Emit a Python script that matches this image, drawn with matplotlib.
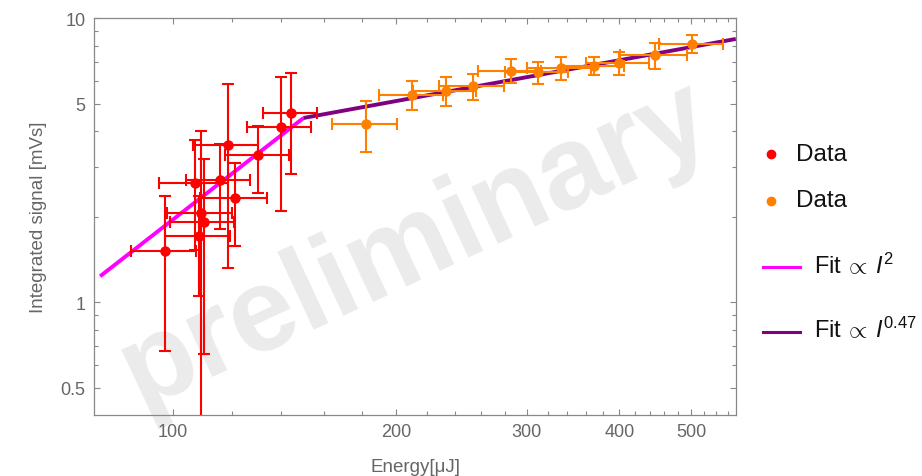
import matplotlib
matplotlib.use("Agg")
import matplotlib.pyplot as plt
from matplotlib.ticker import FixedLocator, NullFormatter, FixedFormatter

plt.rcParams['font.family'] = ['Liberation Sans', 'DejaVu Sans']
plt.rcParams['mathtext.fontset'] = 'custom'
plt.rcParams['mathtext.rm'] = 'Liberation Sans'
plt.rcParams['mathtext.it'] = 'Liberation Sans:italic'

# ---- data ----
red_x = [97.7, 107.2, 109.1, 110.0, 108.6, 115.6, 118.5, 121.3, 130.4, 139.8, 144.2]
red_y = [1.515, 2.63, 2.06, 1.92, 1.71, 2.70, 3.58, 2.33, 3.30, 4.15, 4.63]
red_xerr = [9.8, 11.5, 11.0, 11.0, 11.0, 11.3, 11.9, 12.5, 12.9, 13.8, 12.0]
red_yerr = [0.843, 1.10, 1.94, 1.26, 0.66, 0.89, 2.26, 0.75, 0.88, 2.06, 1.80]

orange_x = [182.0, 210.4, 233.5, 254.1, 285.6, 310.9, 333.2, 369.6, 399.3, 447.0, 501.5]
orange_y = [4.24, 5.36, 5.55, 5.75, 6.53, 6.44, 6.65, 6.80, 6.95, 7.41, 8.10]
orange_xerr = [18.3, 20.6, 23.0, 25.6, 27.6, 30.5, 33.0, 36.0, 39.0, 46.0, 49.7]
orange_yerr = [0.85, 0.63, 0.65, 0.62, 0.63, 0.57, 0.62, 0.48, 0.63, 0.79, 0.58]

fit2_x = [79.8, 150.0]
fit2_y = [1.235, 4.45]
fit047_x = [150.0, 574.0]
fit047_y = [4.45, 8.44]

x_major = [100, 200, 300, 400, 500]
x_major_labels = ['100', '200', '300', '400', '500']
x_minor = [120, 140, 160, 180, 220, 240, 260, 280, 320, 340, 360, 380,
           420, 440, 460, 480, 520, 540, 560]
y_major = [0.5, 1, 5, 10]
y_major_labels = ['0.5', '1', '5', '10']
y_minor = [0.6, 0.7, 0.8, 0.9, 2, 3, 4, 6, 7, 8, 9]

legend_labels = ['Data', 'Data', 'Fit$\\:{\\propto}\\:\\mathit{I}^{2}$',
                 'Fit$\\:{\\propto}\\:\\mathit{I}^{0.47}$']

# ---- styling ----
RED = '#ff0000'
ORANGE = '#ff8000'
MAGENTA = '#ff00ff'
PURPLE = '#800080'
FRAME = '#888888'
LABEL = '#666666'

W, H = 922, 477
fig = plt.figure(figsize=(W / 100, H / 100), dpi=100)
ax = fig.add_axes([94 / W, 1 - 416 / H, (736 - 94) / W, (416 - 19) / H])

# watermark
ax.text(0.50, 0.43, 'preliminary', transform=ax.transAxes, fontsize=85,
        fontweight='bold', color='#ebebeb', rotation=25, ha='center',
        va='center', rotation_mode='anchor', zorder=0)

ax.plot(fit2_x, fit2_y, color=MAGENTA, lw=2.8, zorder=2, solid_capstyle='butt')
ax.plot(fit047_x, fit047_y, color=PURPLE, lw=2.8, zorder=2, solid_capstyle='butt')

ax.errorbar(red_x, red_y, xerr=red_xerr, yerr=red_yerr, fmt='o', color=RED,
            ms=6.5, elinewidth=1.5, capsize=4.5, capthick=1.5, zorder=3)
ax.errorbar(orange_x, orange_y, xerr=orange_xerr, yerr=orange_yerr, fmt='o',
            color=ORANGE, ms=6.5, elinewidth=1.5, capsize=4.5, capthick=1.5, zorder=3)

ax.set_xscale('log')
ax.set_yscale('log')
ax.set_xlim(78.3, 574.3)
ax.set_ylim(0.4015, 10)

ax.xaxis.set_major_locator(FixedLocator(x_major))
ax.xaxis.set_major_formatter(FixedFormatter(x_major_labels))
ax.xaxis.set_minor_locator(FixedLocator(x_minor))
ax.xaxis.set_minor_formatter(NullFormatter())
ax.yaxis.set_major_locator(FixedLocator(y_major))
ax.yaxis.set_major_formatter(FixedFormatter(y_major_labels))
ax.yaxis.set_minor_locator(FixedLocator(y_minor))
ax.yaxis.set_minor_formatter(NullFormatter())

ax.tick_params(which='both', direction='in', top=True, right=True,
               color=FRAME, labelcolor=LABEL, labelsize=13, width=0.8)
ax.tick_params(which='major', length=4.5, pad=6)
ax.tick_params(which='minor', length=2.8)
for s in ax.spines.values():
    s.set_color(FRAME)
    s.set_linewidth(0.9)

ax.set_xlabel('Energy[μJ]', fontsize=13.5, color=LABEL, labelpad=13)
ax.set_ylabel('Integrated signal [mVs]', fontsize=13.5, color=LABEL, labelpad=10)

# legend drawn in a pixel-coordinate overlay
lg = fig.add_axes([0, 0, 1, 1], facecolor='none')
lg.set_xlim(0, W)
lg.set_ylim(H, 0)
lg.axis('off')
lg.plot([771], [155], 'o', color=RED, ms=6)
lg.plot([771], [201.5], 'o', color=ORANGE, ms=6)
lg.plot([762.7, 800], [268, 268], color=MAGENTA, lw=2.2)
lg.plot([762.7, 800], [333, 333], color=PURPLE, lw=2.2)
ys = [155, 201, 266, 330]
xs = [796, 796, 814, 814]
sizes = [17.5, 17.5, 17, 17]
for x, y, t, fs in zip(xs, ys, legend_labels, sizes):
    lg.text(x, y, t, fontsize=fs, color='#111111', ha='left', va='center')

fig.savefig('out.png', dpi=100)
